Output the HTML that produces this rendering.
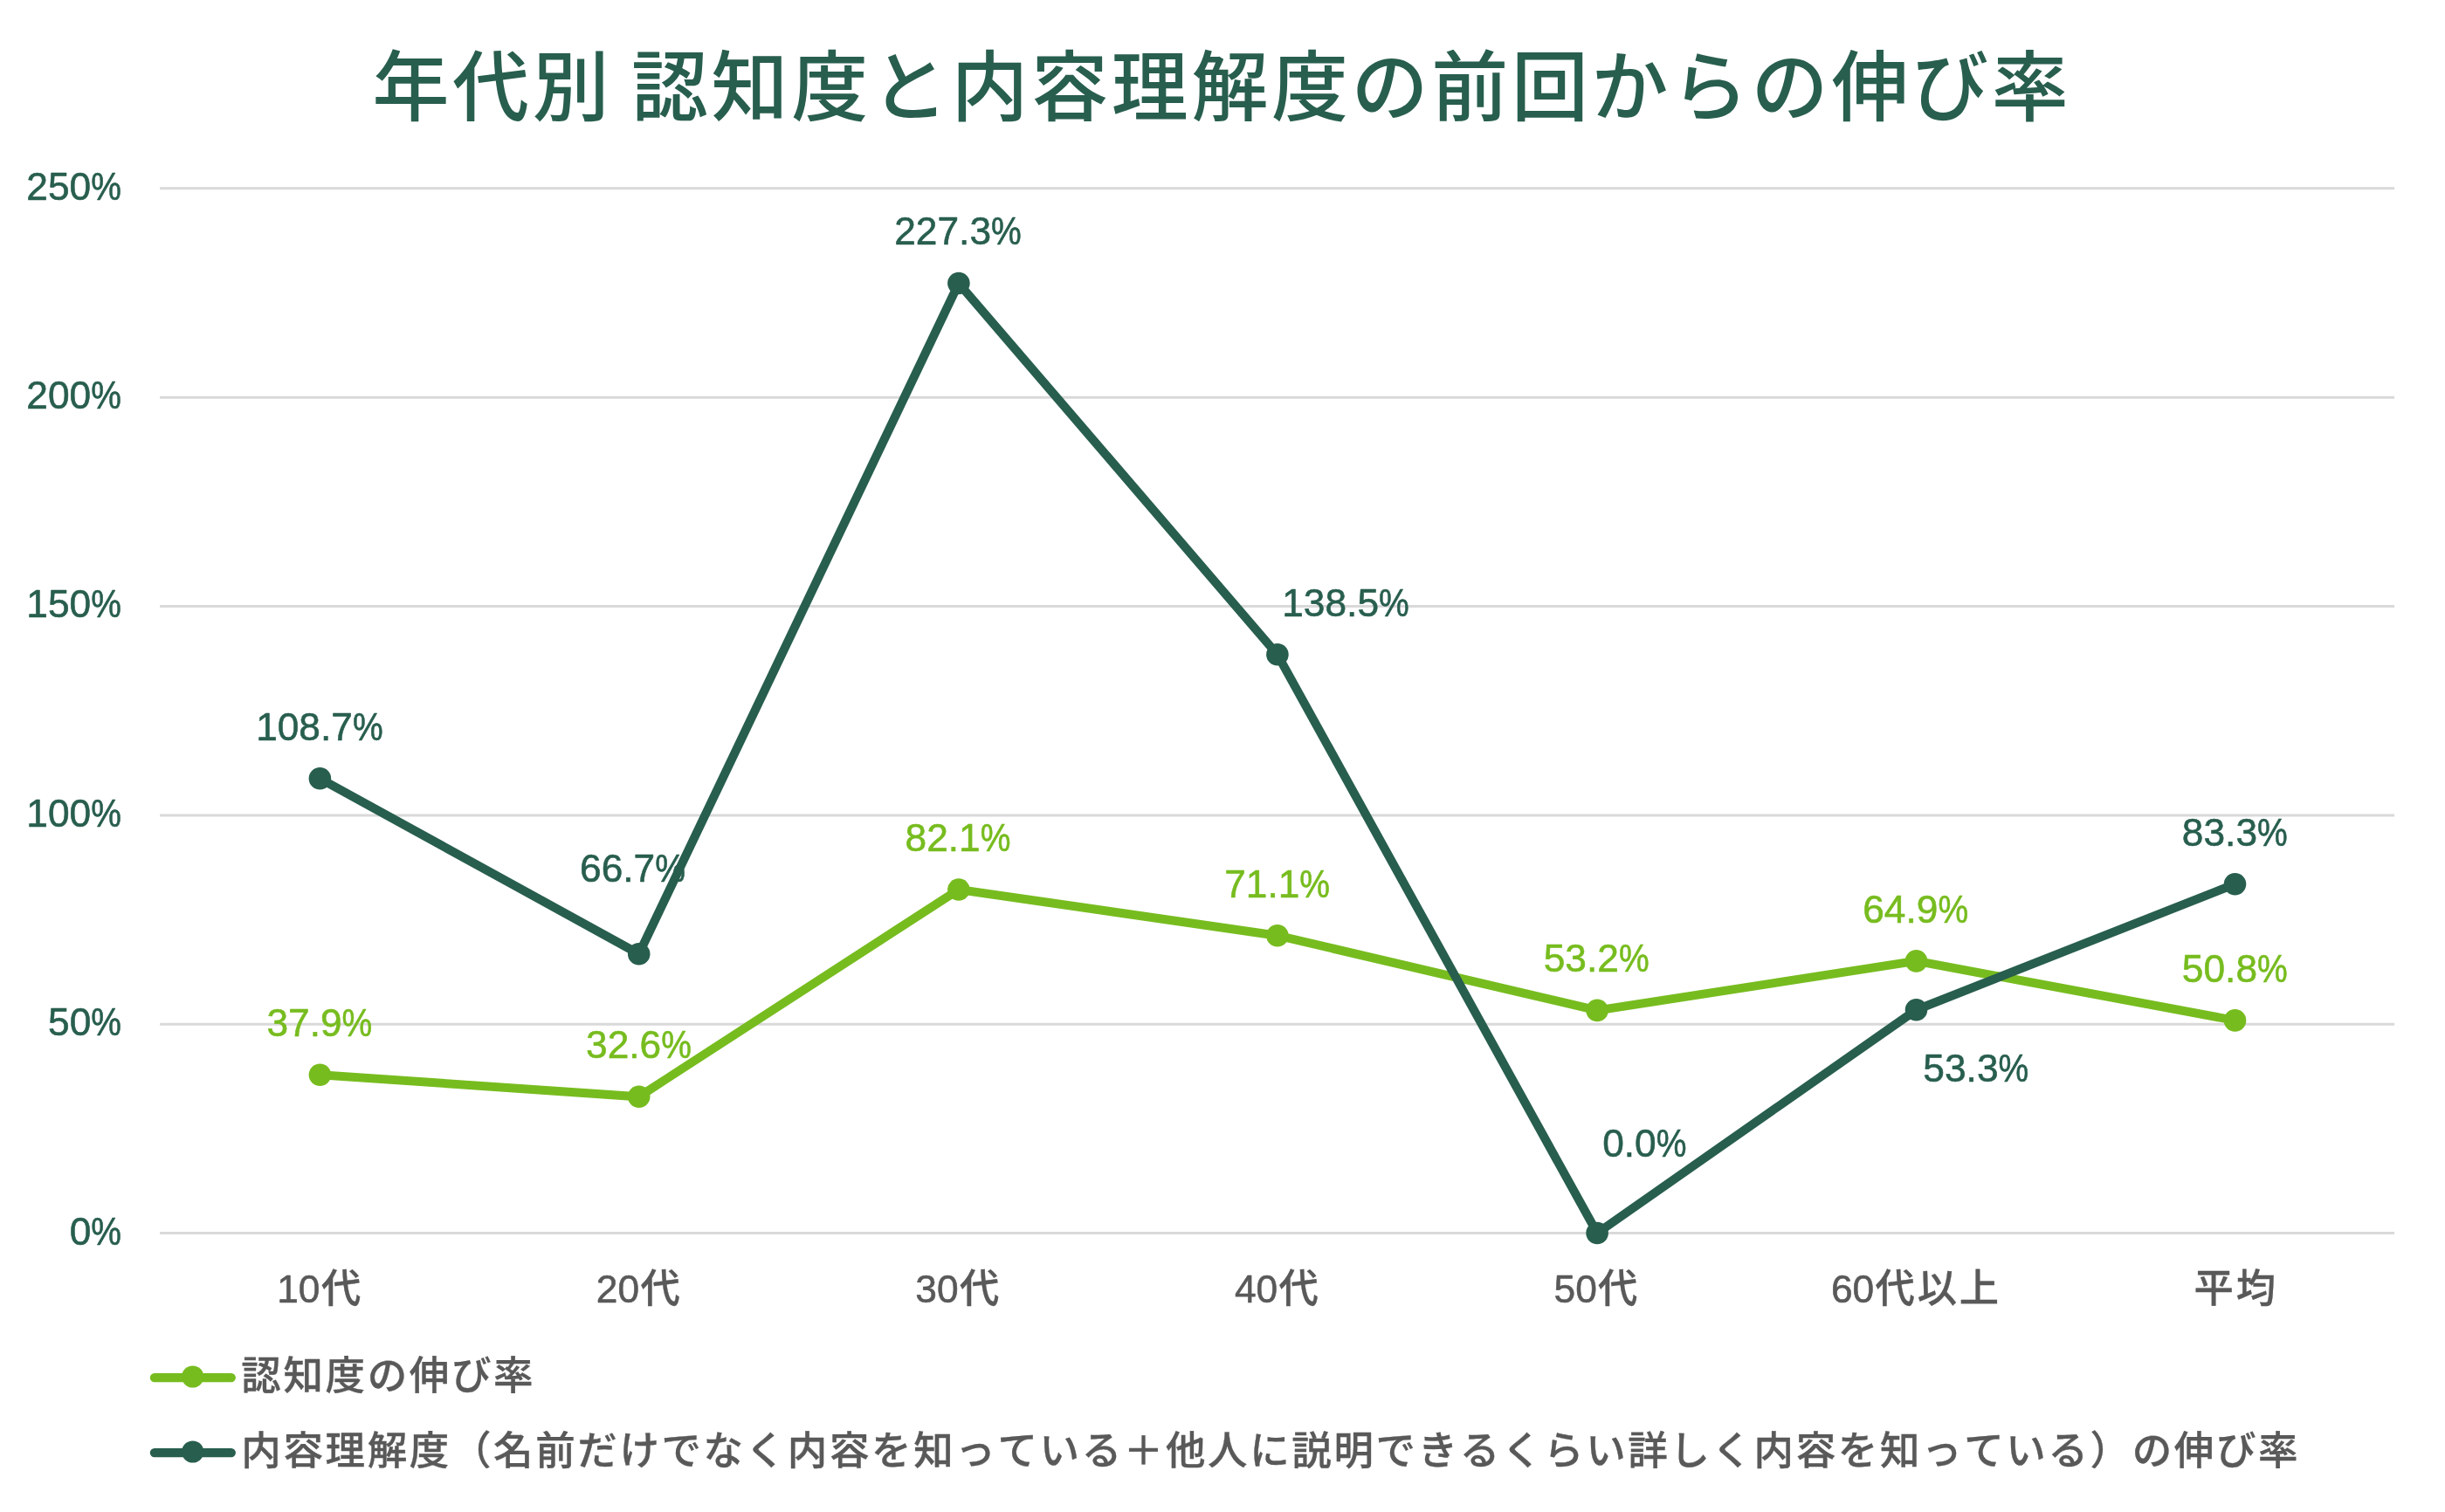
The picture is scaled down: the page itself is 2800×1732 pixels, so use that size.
<!DOCTYPE html>
<html lang="ja"><head><meta charset="utf-8"><title>年代別 認知度と内容理解度の前回からの伸び率</title>
<style>
html,body{margin:0;padding:0;background:#fff;}
body{width:2800px;height:1732px;overflow:hidden;}
svg{display:block;will-change:transform;}
text{font-family:"Liberation Sans","Noto Sans CJK JP",sans-serif;font-kerning:none;}
.title{font-size:87.9px;letter-spacing:3.75px;fill:#285E4E;font-weight:500;}
.num{font-size:45.0px;letter-spacing:0;font-weight:400;stroke-width:0.6px;stroke-linejoin:round;}
.dk{fill:#285E4E;stroke:#285E4E;}
.lt{fill:#77BC1F;stroke:#77BC1F;}
.gy{fill:#595959;stroke:#595959;}
.cat{font-size:45.3px;letter-spacing:2.82px;fill:#595959;font-weight:500;stroke:#595959;stroke-width:0.35px;}
.leg{font-size:45.5px;letter-spacing:2.62px;fill:#595959;font-weight:500;stroke:#595959;stroke-width:0.35px;}
</style></head><body>
<svg width="2800" height="1732" viewBox="0 0 2800 1732">
<rect x="0" y="0" width="2800" height="1732" fill="#ffffff"/>
<text class="title" x="426.4" y="130.5">年代別</text>
<text class="title" x="722.9" y="130.5">認知度と内容理解度の前回からの伸び率</text>
<line x1="183.1" y1="1412.60" x2="2742.1" y2="1412.60" stroke="#D9D9D9" stroke-width="3"/>
<line x1="183.1" y1="1173.24" x2="2742.1" y2="1173.24" stroke="#D9D9D9" stroke-width="3"/>
<line x1="183.1" y1="933.88" x2="2742.1" y2="933.88" stroke="#D9D9D9" stroke-width="3"/>
<line x1="183.1" y1="694.52" x2="2742.1" y2="694.52" stroke="#D9D9D9" stroke-width="3"/>
<line x1="183.1" y1="455.16" x2="2742.1" y2="455.16" stroke="#D9D9D9" stroke-width="3"/>
<line x1="183.1" y1="215.80" x2="2742.1" y2="215.80" stroke="#D9D9D9" stroke-width="3"/>
<text class="num dk" x="139" y="228.7" text-anchor="end"><tspan textLength="73.89" lengthAdjust="spacingAndGlyphs">250</tspan><tspan textLength="34.74" lengthAdjust="spacingAndGlyphs">%</tspan></text>
<text class="num dk" x="139" y="468.1" text-anchor="end"><tspan textLength="73.89" lengthAdjust="spacingAndGlyphs">200</tspan><tspan textLength="34.74" lengthAdjust="spacingAndGlyphs">%</tspan></text>
<text class="num dk" x="139" y="707.4" text-anchor="end"><tspan textLength="73.89" lengthAdjust="spacingAndGlyphs">150</tspan><tspan textLength="34.74" lengthAdjust="spacingAndGlyphs">%</tspan></text>
<text class="num dk" x="139" y="946.8" text-anchor="end"><tspan textLength="73.89" lengthAdjust="spacingAndGlyphs">100</tspan><tspan textLength="34.74" lengthAdjust="spacingAndGlyphs">%</tspan></text>
<text class="num dk" x="139" y="1186.1" text-anchor="end"><tspan textLength="49.26" lengthAdjust="spacingAndGlyphs">50</tspan><tspan textLength="34.74" lengthAdjust="spacingAndGlyphs">%</tspan></text>
<text class="num dk" x="139" y="1425.5" text-anchor="end"><tspan textLength="24.63" lengthAdjust="spacingAndGlyphs">0</tspan><tspan textLength="34.74" lengthAdjust="spacingAndGlyphs">%</tspan></text>
<polyline points="366.4,1231.2 731.7,1256.3 1097.9,1019.0 1462.9,1071.7 1829.1,1157.4 2194.5,1100.9 2559.5,1168.9" fill="none" stroke="#77BC1F" stroke-width="10" stroke-linejoin="miter" stroke-linecap="butt"/>
<circle cx="366.4" cy="1231.2" r="12.8" fill="#77BC1F"/>
<circle cx="731.7" cy="1256.3" r="12.8" fill="#77BC1F"/>
<circle cx="1097.9" cy="1019.0" r="12.8" fill="#77BC1F"/>
<circle cx="1462.9" cy="1071.7" r="12.8" fill="#77BC1F"/>
<circle cx="1829.1" cy="1157.4" r="12.8" fill="#77BC1F"/>
<circle cx="2194.5" cy="1100.9" r="12.8" fill="#77BC1F"/>
<circle cx="2559.5" cy="1168.9" r="12.8" fill="#77BC1F"/>
<polyline points="366.4,891.8 731.7,1092.7 1097.9,324.5 1462.9,749.8 1829.1,1412.5 2194.5,1156.8 2559.5,1012.8" fill="none" stroke="#285E4E" stroke-width="10" stroke-linejoin="miter" stroke-linecap="butt"/>
<circle cx="366.4" cy="891.8" r="12.8" fill="#285E4E"/>
<circle cx="731.7" cy="1092.7" r="12.8" fill="#285E4E"/>
<circle cx="1097.9" cy="324.5" r="12.8" fill="#285E4E"/>
<circle cx="1462.9" cy="749.8" r="12.8" fill="#285E4E"/>
<circle cx="1829.1" cy="1412.5" r="12.8" fill="#285E4E"/>
<circle cx="2194.5" cy="1156.8" r="12.8" fill="#285E4E"/>
<circle cx="2559.5" cy="1012.8" r="12.8" fill="#285E4E"/>
<text class="num lt" x="365.9" y="1186.6" text-anchor="middle"><tspan textLength="86.16" lengthAdjust="spacingAndGlyphs">37.9</tspan><tspan textLength="34.74" lengthAdjust="spacingAndGlyphs">%</tspan></text>
<text class="num lt" x="731.5" y="1211.9" text-anchor="middle"><tspan textLength="86.16" lengthAdjust="spacingAndGlyphs">32.6</tspan><tspan textLength="34.74" lengthAdjust="spacingAndGlyphs">%</tspan></text>
<text class="num lt" x="1097.0" y="975.0" text-anchor="middle"><tspan textLength="86.16" lengthAdjust="spacingAndGlyphs">82.1</tspan><tspan textLength="34.74" lengthAdjust="spacingAndGlyphs">%</tspan></text>
<text class="num lt" x="1462.6" y="1027.6" text-anchor="middle"><tspan textLength="86.16" lengthAdjust="spacingAndGlyphs">71.1</tspan><tspan textLength="34.74" lengthAdjust="spacingAndGlyphs">%</tspan></text>
<text class="num lt" x="1828.2" y="1113.3" text-anchor="middle"><tspan textLength="86.16" lengthAdjust="spacingAndGlyphs">53.2</tspan><tspan textLength="34.74" lengthAdjust="spacingAndGlyphs">%</tspan></text>
<text class="num lt" x="2193.7" y="1057.3" text-anchor="middle"><tspan textLength="86.16" lengthAdjust="spacingAndGlyphs">64.9</tspan><tspan textLength="34.74" lengthAdjust="spacingAndGlyphs">%</tspan></text>
<text class="num lt" x="2559.3" y="1124.8" text-anchor="middle"><tspan textLength="86.16" lengthAdjust="spacingAndGlyphs">50.8</tspan><tspan textLength="34.74" lengthAdjust="spacingAndGlyphs">%</tspan></text>
<text class="num dk" x="365.9" y="847.6" text-anchor="middle"><tspan textLength="110.79" lengthAdjust="spacingAndGlyphs">108.7</tspan><tspan textLength="34.74" lengthAdjust="spacingAndGlyphs">%</tspan></text>
<text class="num dk" x="724.5" y="1010.4" text-anchor="middle"><tspan textLength="86.16" lengthAdjust="spacingAndGlyphs">66.7</tspan><tspan textLength="34.74" lengthAdjust="spacingAndGlyphs">%</tspan></text>
<text class="num dk" x="1097.0" y="279.9" text-anchor="middle"><tspan textLength="110.79" lengthAdjust="spacingAndGlyphs">227.3</tspan><tspan textLength="34.74" lengthAdjust="spacingAndGlyphs">%</tspan></text>
<text class="num dk" x="1541.0" y="705.7" text-anchor="middle"><tspan textLength="110.79" lengthAdjust="spacingAndGlyphs">138.5</tspan><tspan textLength="34.74" lengthAdjust="spacingAndGlyphs">%</tspan></text>
<text class="num dk" x="1883.3" y="1324.6" text-anchor="middle"><tspan textLength="61.53" lengthAdjust="spacingAndGlyphs">0.0</tspan><tspan textLength="34.74" lengthAdjust="spacingAndGlyphs">%</tspan></text>
<text class="num dk" x="2262.8" y="1238.7" text-anchor="middle"><tspan textLength="86.16" lengthAdjust="spacingAndGlyphs">53.3</tspan><tspan textLength="34.74" lengthAdjust="spacingAndGlyphs">%</tspan></text>
<text class="num dk" x="2559.3" y="969.2" text-anchor="middle"><tspan textLength="86.16" lengthAdjust="spacingAndGlyphs">83.3</tspan><tspan textLength="34.74" lengthAdjust="spacingAndGlyphs">%</tspan></text>
<text class="cat"><tspan class="num gy" x="317.2" y="1491.9" textLength="49.26" lengthAdjust="spacingAndGlyphs">10</tspan><tspan x="367.9" y="1491.6">代</tspan></text>
<text class="cat"><tspan class="num gy" x="682.8" y="1491.9" textLength="49.26" lengthAdjust="spacingAndGlyphs">20</tspan><tspan x="733.4" y="1491.6">代</tspan></text>
<text class="cat"><tspan class="num gy" x="1048.3" y="1491.9" textLength="49.26" lengthAdjust="spacingAndGlyphs">30</tspan><tspan x="1099.0" y="1491.6">代</tspan></text>
<text class="cat"><tspan class="num gy" x="1413.9" y="1491.9" textLength="49.26" lengthAdjust="spacingAndGlyphs">40</tspan><tspan x="1464.6" y="1491.6">代</tspan></text>
<text class="cat"><tspan class="num gy" x="1779.5" y="1491.9" textLength="49.26" lengthAdjust="spacingAndGlyphs">50</tspan><tspan x="1830.1" y="1491.6">代</tspan></text>
<text class="cat"><tspan class="num gy" x="2096.9" y="1491.9" textLength="49.26" lengthAdjust="spacingAndGlyphs">60</tspan><tspan x="2147.6" y="1491.6">代以上</tspan></text>
<text class="cat" x="2512.6" y="1491.6">平均</text>
<line x1="176.9" y1="1578.05" x2="264.8" y2="1578.05" stroke="#77BC1F" stroke-width="10.3" stroke-linecap="round"/>
<circle cx="220.7" cy="1577.00" r="12.6" fill="#77BC1F"/>
<text class="leg" x="276.3" y="1591.75">認知度の伸び率</text>
<line x1="176.9" y1="1664.05" x2="264.8" y2="1664.05" stroke="#285E4E" stroke-width="10.3" stroke-linecap="round"/>
<circle cx="220.7" cy="1663.00" r="12.6" fill="#285E4E"/>
<text class="leg" x="276.3" y="1677.75">内容理解度（名前だけでなく内容を知っている＋他人に説明できるくらい詳しく内容を知っている）の伸び率</text>
</svg></body></html>
